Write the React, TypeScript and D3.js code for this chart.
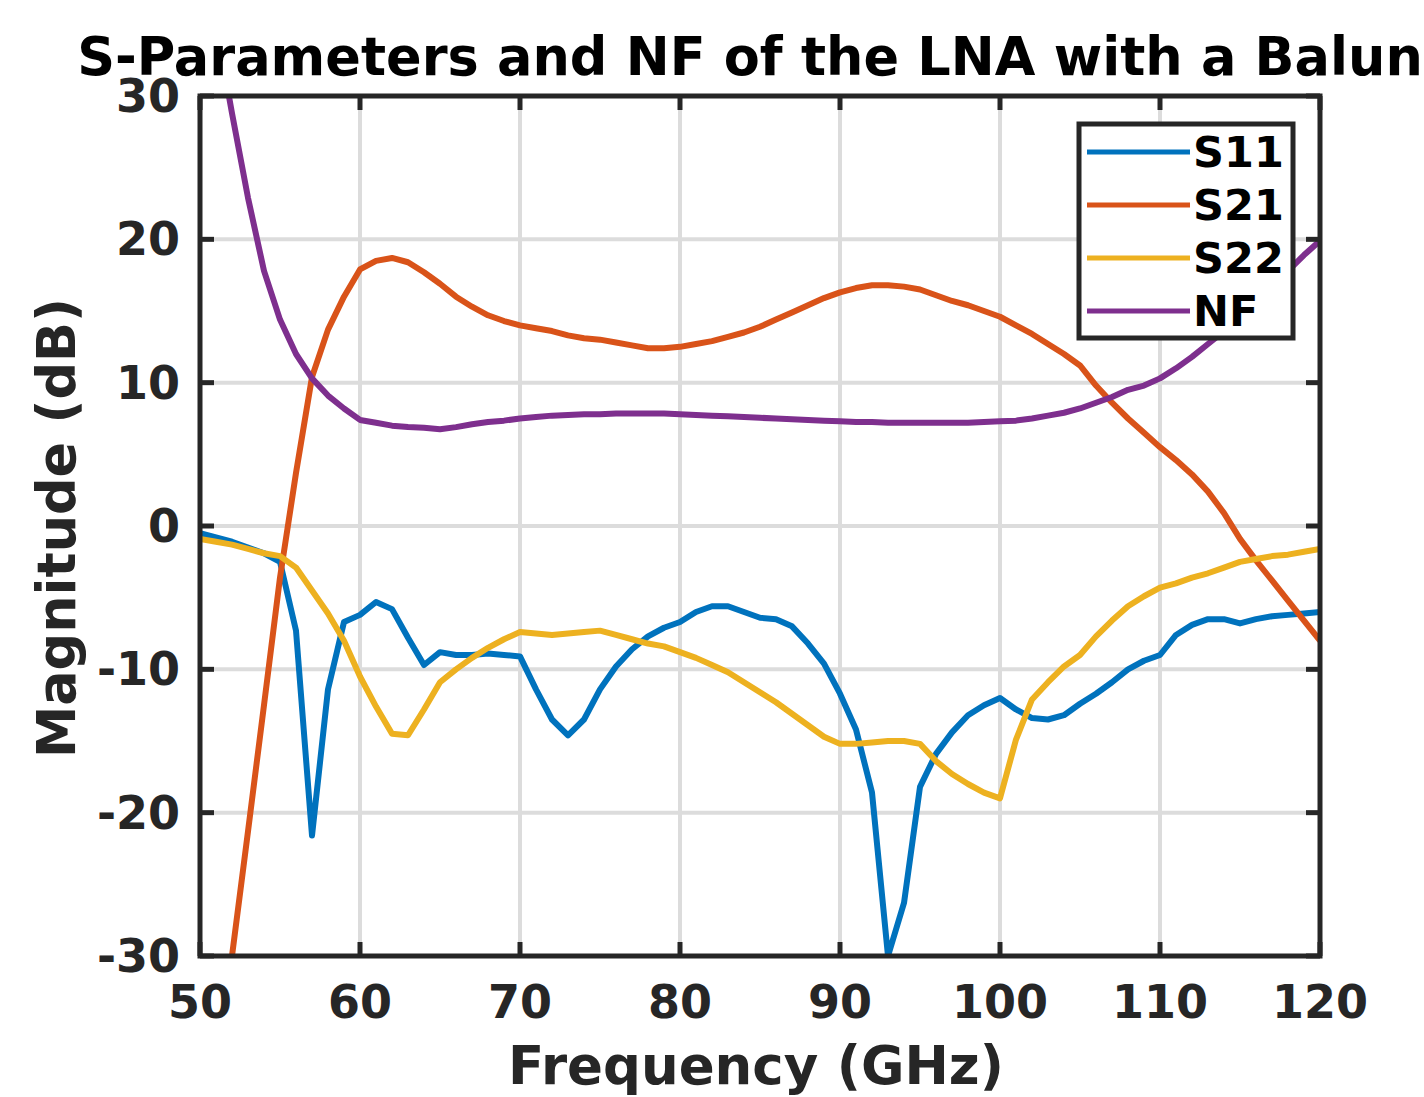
import React, { useEffect, useRef } from 'react'
import * as d3 from 'd3'

// frequency grid (GHz), 1 GHz steps
const freq = d3.range(50, 121)

const s11 = [
  -0.5, -0.8, -1.1, -1.5, -1.9, -2.5, -7.3, -21.6, -11.4, -6.7,
  -6.2, -5.3, -5.8, -7.8, -9.7, -8.8, -9.0, -9.0, -8.9, -9.0,
  -9.1, -11.4, -13.5, -14.6, -13.5, -11.4, -9.8, -8.6, -7.7, -7.1,
  -6.7, -6.0, -5.6, -5.6, -6.0, -6.4, -6.5, -7.0, -8.2, -9.6,
  -11.7, -14.2, -18.6, -30.0, -26.3, -18.2, -15.9, -14.4, -13.2, -12.5,
  -12.0, -12.8, -13.4, -13.5, -13.2, -12.4, -11.7, -10.9, -10.0, -9.4,
  -9.0, -7.6, -6.9, -6.5, -6.5, -6.8, -6.5, -6.3, -6.2, -6.1,
  -6.0,
]

const s21Freq = d3.range(52, 121)
const s21 = [
  -30.0, -21.3, -12.5, -3.6, 3.7, 10.4, 13.7, 16.0,
  17.9, 18.5, 18.7, 18.4, 17.7, 16.9, 16.0, 15.3, 14.7, 14.3,
  14.0, 13.8, 13.6, 13.3, 13.1, 13.0, 12.8, 12.6, 12.4, 12.4,
  12.5, 12.7, 12.9, 13.2, 13.5, 13.9, 14.4, 14.9, 15.4, 15.9,
  16.3, 16.6, 16.8, 16.8, 16.7, 16.5, 16.1, 15.7, 15.4, 15.0,
  14.6, 14.0, 13.4, 12.7, 12.0, 11.2, 9.8, 8.6, 7.5, 6.5,
  5.5, 4.6, 3.6, 2.4, 0.9, -0.9, -2.4, -3.8, -5.2, -6.6,
  -8.0,
]

const s22 = [
  -0.9, -1.1, -1.3, -1.6, -1.9, -2.1, -2.9, -4.5, -6.1, -8.0,
  -10.5, -12.6, -14.5, -14.6, -12.8, -10.9, -10.0, -9.2, -8.5, -7.9,
  -7.4, -7.5, -7.6, -7.5, -7.4, -7.3, -7.6, -7.9, -8.2, -8.4,
  -8.8, -9.2, -9.7, -10.2, -10.9, -11.6, -12.3, -13.1, -13.9, -14.7,
  -15.2, -15.2, -15.1, -15.0, -15.0, -15.2, -16.4, -17.3, -18.0, -18.6,
  -19.0, -14.9, -12.1, -10.9, -9.8, -9.0, -7.7, -6.6, -5.6, -4.9,
  -4.3, -4.0, -3.6, -3.3, -2.9, -2.5, -2.3, -2.1, -2.0, -1.8,
  -1.6,
]

const nfFreq = d3.range(51, 121)
const nf = [
  35.0, 28.8, 22.9, 17.8, 14.4, 12.0, 10.3, 9.1, 8.2,
  7.4, 7.2, 7.0, 6.9, 6.85, 6.75, 6.9, 7.1, 7.25, 7.35,
  7.5, 7.6, 7.7, 7.75, 7.8, 7.8, 7.85, 7.85, 7.85, 7.85,
  7.8, 7.75, 7.7, 7.65, 7.6, 7.55, 7.5, 7.45, 7.4, 7.35,
  7.3, 7.25, 7.25, 7.2, 7.2, 7.2, 7.2, 7.2, 7.2, 7.25,
  7.3, 7.35, 7.5, 7.7, 7.9, 8.2, 8.6, 9.0, 9.5, 9.8,
  10.3, 11.0, 11.8, 12.7, 13.6, 14.6, 15.6, 16.7, 17.8, 18.9,
  19.9,
]

const seriesNames = ['S11', 'S21', 'S22', 'NF']
const seriesColors = ['#0072BD', '#D95319', '#EDB120', '#7E2F8E']
const xTicks = [50, 60, 70, 80, 90, 100, 110, 120]
const yTicks = [-30, -20, -10, 0, 10, 20, 30]

const W = 1424
const H = 1097
const margin = { left: 200, right: 104, top: 96, bottom: 141 }

export default function App() {
  const ref = useRef<SVGSVGElement>(null)

  useEffect(() => {
    const svg = d3.select(ref.current)
    svg.selectAll('*').remove()
    const width = W - margin.left - margin.right
    const height = H - margin.top - margin.bottom
    const font = "'DejaVu Sans', sans-serif"
    const ink = '#262626'

    const x = d3.scaleLinear().domain([50, 120]).range([0, width])
    const y = d3.scaleLinear().domain([-30, 30]).range([height, 0])

    const g = svg.append('g').attr('transform', `translate(${margin.left},${margin.top})`)

    g.append('clipPath').attr('id', 'plotclip')
      .append('rect').attr('x', 0).attr('y', 0).attr('width', width).attr('height', height)

    // grid
    g.append('g').selectAll('line.vg').data(xTicks.slice(1, -1)).join('line')
      .attr('x1', d => x(d)).attr('x2', d => x(d)).attr('y1', 0).attr('y2', height)
      .attr('stroke', '#dcdcdc').attr('stroke-width', 4)
    g.append('g').selectAll('line.hg').data(yTicks.slice(1, -1)).join('line')
      .attr('x1', 0).attr('x2', width).attr('y1', d => y(d)).attr('y2', d => y(d))
      .attr('stroke', '#dcdcdc').attr('stroke-width', 4)

    const series = [
      { f: freq, v: s11 },
      { f: s21Freq, v: s21 },
      { f: freq, v: s22 },
      { f: nfFreq, v: nf },
    ]
    const line = d3.line<[number, number]>().x(d => x(d[0])).y(d => y(d[1]))
    const lines = g.append('g').attr('clip-path', 'url(#plotclip)')
    series.forEach((s, i) => {
      lines.append('path')
        .attr('d', line(s.f.map((f, k) => [f, s.v[k]] as [number, number])))
        .attr('fill', 'none').attr('stroke', seriesColors[i])
        .attr('stroke-width', 6).attr('stroke-linejoin', 'round')
    })

    // axes frame and ticks
    const tickLen = 14
    const tk = g.append('g').attr('stroke', ink).attr('stroke-width', 5)
    xTicks.forEach(t => {
      tk.append('line').attr('x1', x(t)).attr('x2', x(t)).attr('y1', height).attr('y2', height - tickLen)
      tk.append('line').attr('x1', x(t)).attr('x2', x(t)).attr('y1', 0).attr('y2', tickLen)
    })
    yTicks.forEach(t => {
      tk.append('line').attr('x1', 0).attr('x2', tickLen).attr('y1', y(t)).attr('y2', y(t))
      tk.append('line').attr('x1', width).attr('x2', width - tickLen).attr('y1', y(t)).attr('y2', y(t))
    })
    g.append('rect').attr('x', 0).attr('y', 0).attr('width', width).attr('height', height)
      .attr('fill', 'none').attr('stroke', ink).attr('stroke-width', 5)

    // tick labels
    g.append('g').selectAll('text').data(xTicks).join('text')
      .attr('x', d => x(d)).attr('y', height + 62)
      .attr('text-anchor', 'middle').attr('font-family', font).attr('font-weight', 'bold')
      .attr('font-size', 46).attr('fill', ink).text(d => d)
    g.append('g').selectAll('text').data(yTicks).join('text')
      .attr('x', -20).attr('y', d => y(d)).attr('dy', '0.35em')
      .attr('text-anchor', 'end').attr('font-family', font).attr('font-weight', 'bold')
      .attr('font-size', 46).attr('fill', ink).text(d => d)

    // axis labels and title
    g.append('text').attr('x', width / 2 - 4).attr('y', height + 128)
      .attr('text-anchor', 'middle').attr('font-family', font).attr('font-weight', 'bold')
      .attr('font-size', 53).attr('fill', ink).text('Frequency (GHz)')
    g.append('text')
      .attr('transform', `translate(${-125},${height / 2 + 2}) rotate(-90)`)
      .attr('text-anchor', 'middle').attr('font-family', font).attr('font-weight', 'bold')
      .attr('font-size', 52.5).attr('fill', ink).text('Magnitude (dB)')
    svg.append('text').attr('x', 750).attr('y', 75)
      .attr('text-anchor', 'middle').attr('font-family', font).attr('font-weight', 'bold')
      .attr('font-size', 52.5).attr('fill', '#000').text('S-Parameters and NF of the LNA with a Balun')

    // legend
    const lg = svg.append('g').attr('transform', 'translate(1079,124)')
    lg.append('rect').attr('width', 214).attr('height', 214)
      .attr('fill', '#fff').attr('stroke', ink).attr('stroke-width', 5)
    seriesNames.forEach((name, i) => {
      const cy = 28 + i * 53
      lg.append('line').attr('x1', 8).attr('x2', 111).attr('y1', cy).attr('y2', cy)
        .attr('stroke', seriesColors[i]).attr('stroke-width', 5)
      lg.append('text').attr('x', 114).attr('y', cy).attr('dy', '0.36em')
        .attr('font-family', font).attr('font-weight', 'bold').attr('font-size', 43)
        .attr('fill', '#000').text(name)
    })
  }, [])

  return (
    <svg ref={ref} width={W} height={H} style={{ display: 'block', position: 'absolute', left: 0, top: 0, background: '#fff' }} />
  )
}
